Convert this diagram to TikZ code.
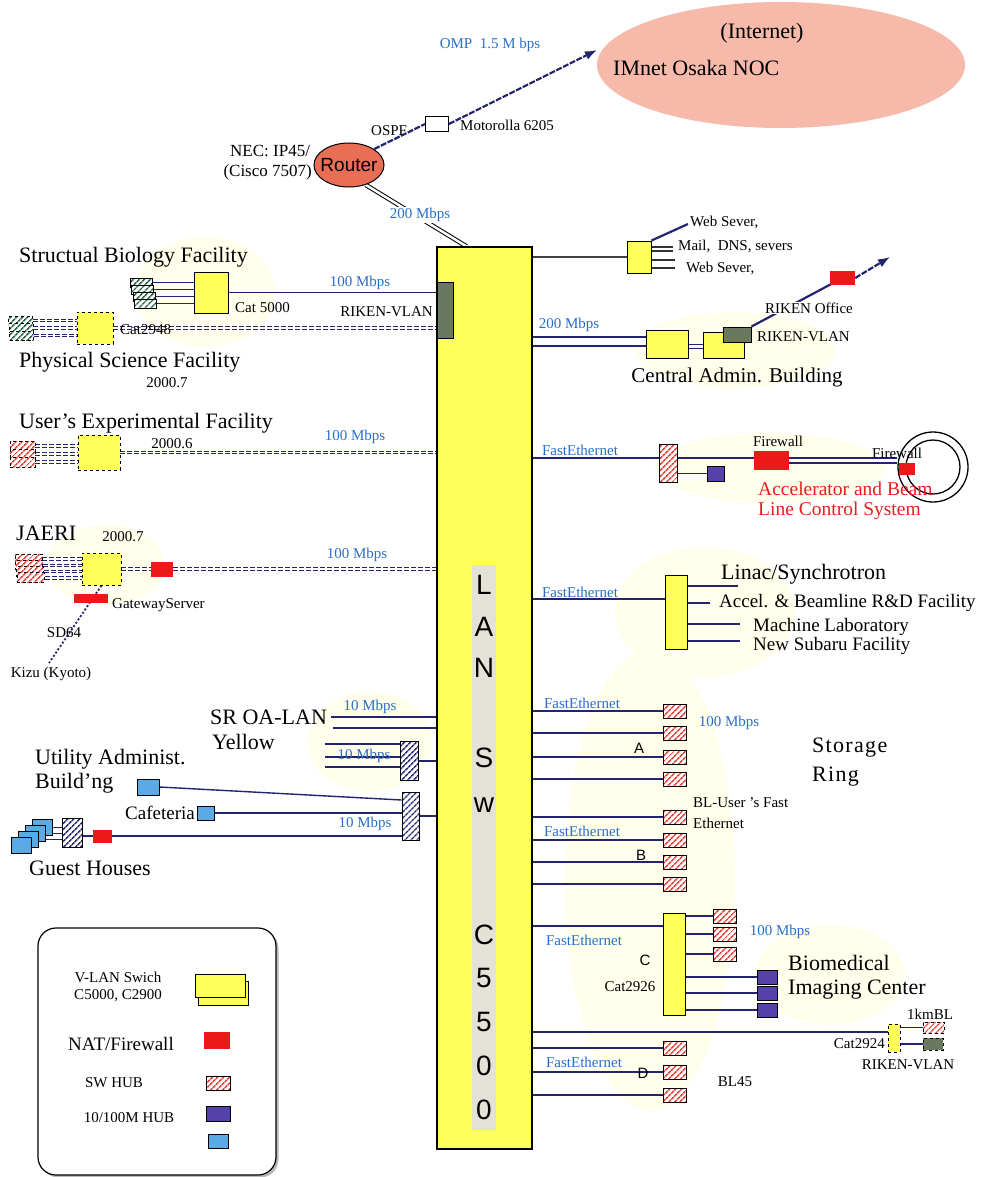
\documentclass[tikz,border=0pt]{standalone}
\usepackage{fontspec}
\setmainfont{Liberation Serif}
\setsansfont{Liberation Sans}
\usetikzlibrary{shapes.geometric,arrows.meta,positioning,calc,
                backgrounds,shadows,patterns.meta}

\definecolor{swyellow}{RGB}{255,255,90}
\definecolor{navyline}{RGB}{35,35,110}
\definecolor{lblue}{RGB}{40,110,200}
\definecolor{fwred}{RGB}{235,25,25}
\definecolor{acred}{RGB}{230,30,30}
\definecolor{hubred}{RGB}{225,70,60}
\definecolor{hubnavy}{RGB}{45,45,120}
\definecolor{hubgreen}{RGB}{40,100,70}
\definecolor{hubpurple}{RGB}{85,65,170}
\definecolor{pcblue}{RGB}{90,170,230}
\definecolor{vlangrey}{RGB}{105,120,95}
\definecolor{noclight}{RGB}{247,185,170}
\definecolor{routerred}{RGB}{232,110,85}
\definecolor{stripgrey}{RGB}{228,226,215}
\definecolor{glowyellow}{RGB}{255,255,236}

\newcommand{\fntbig}{\fontsize{22}{24}\selectfont}
\newcommand{\fntmid}{\fontsize{19}{21}\selectfont}
\newcommand{\fntsml}{\fontsize{15}{17}\selectfont}

\tikzset{
  sz/.style 2 args={minimum width=#1pt, minimum height=#2pt},
  box/.style={draw, inner sep=0pt, line width=0.9pt},
  vsw/.style={box, fill=swyellow},
  fwbox/.style={inner sep=0pt, fill=fwred},
  hatch/.style={box, preaction={fill=white},
    pattern={Lines[angle=45,distance=4pt,line width=1.6pt]}, pattern color=#1},
  hubsw/.style={hatch=hubred, sz={23}{14}},
  hubnv/.style={hatch=hubnavy},
  hubgr/.style={hatch=hubgreen},
  hub10/.style={box, fill=hubpurple, sz={20}{14}},
  pcbox/.style={box, fill=pcblue},
  link/.style={draw=navyline, line width=1.4pt},
  dlink/.style={draw=navyline, line width=0.9pt, double=white,
    double distance=1.6pt, dash pattern=on 5pt off 2pt},
  dbl/.style={draw=navyline, line width=1.4pt, double=white, double distance=#1},
  wanline/.style={draw=navyline, line width=2.2pt, dash pattern=on 6pt off 1.5pt},
  wan/.style={wanline, -{Latex[length=12pt,width=9pt]}},
  lbl/.style={font=\fntsml, inner sep=1pt},
  blbl/.style={lbl, text=lblue},
  mid/.style={font=\fntmid, inner sep=1pt},
  big/.style={font=\fntbig, inner sep=1pt},
  redtxt/.style={font=\fontsize{19.5}{21}\selectfont, text=acred, inner sep=1pt},
  ringfont/.style={font=\fontsize{22}{24}\selectfont\addfontfeature{LetterSpace=6}, inner sep=1pt},
  swletter/.style={font=\sffamily\fontsize{28}{28}\selectfont, inner sep=0pt},
  sansl/.style={font=\sffamily\fontsize{15}{15}\selectfont, inner sep=1pt}
}

\begin{document}
\begin{tikzpicture}[x=1pt,y=-1pt]
\useasboundingbox (0,0) rectangle (982,1177);

% soft glows behind the groups
\begin{scope}[on background layer]
  \fill[glowyellow] (205,292) ellipse [x radius=70pt, y radius=55pt];
  \fill[glowyellow] (105,565) ellipse [x radius=60pt, y radius=40pt];
  \fill[glowyellow] (370,742) ellipse [x radius=62pt, y radius=50pt];
  \fill[glowyellow] (735,350) ellipse [x radius=100pt, y radius=38pt];
  \fill[glowyellow] (770,468) ellipse [x radius=115pt, y radius=35pt];
  \fill[glowyellow] (705,612) ellipse [x radius=90pt, y radius=65pt];
  \fill[glowyellow] (650,880) ellipse [x radius=85pt, y radius=230pt];
  \fill[glowyellow] (830,975) ellipse [x radius=75pt, y radius=50pt];
\end{scope}

% internet and router
\node[ellipse, fill=noclight, minimum width=368pt, minimum height=126pt] (noc) at (781,65) {};
\node[big] (inet) at (762,33) {(Internet)};
\node[big, anchor=west] (noctxt) at (612,68) {IMnet Osaka NOC};
\node[ellipse, draw, line width=1pt, fill=routerred, sz={70}{44}] (router) at (349,165) {};
\node[font=\sffamily\fontsize{19}{19}\selectfont, inner sep=0pt] (routertxt) at (router) {Router};
\node[box, fill=white, sz={23}{15}] (moto) at (437,124) {};
\coordinate (omptip) at (597,50);
\draw[wanline] (router.north east) -- (moto.west);
\draw[wan] (moto.east) -- (omptip);
\node[lbl, anchor=west] (mototxt) at (459,125) {Motorolla 6205};
\node[lbl, anchor=west] (ospf) at (370,131) {OSPF};
\node[blbl] (omp) at (490,45) {OMP\ \ 1.5 M bps};
\node[font=\fontsize{17}{19}\selectfont, inner sep=1pt, anchor=west] (nec1) at (229,151) {NEC: IP45/};
\node[font=\fontsize{17}{19}\selectfont, inner sep=1pt, anchor=east] (nec2) at (313,172) {(Cisco 7507)};

% LAN switch C5500
\node[vsw, line width=1.2pt, sz={95}{902}] (lansw) at (484.5,698) {};
\node[fill=stripgrey, inner sep=0pt, sz={24}{565}] (strip) at (484,847.5) {};
\foreach \ch/\yy [count=\i] in {L/585,A/627,N/668,S/758,w/805,C/935,5/978,5/1022,0/1066,0/1110}
  \node[swletter] (let\i) at (484,\yy) {\ch};
\node[box, fill=vlangrey, sz={16}{56}] (vlan) at (445,310) {};
\node[blbl, fill=white] (r200) at (420,215) {200 Mbps};

% Structual Biology
\node[big, anchor=west] (sbftxt) at (18,257) {Structual Biology Facility};
\foreach \k in {0,...,3}
  \node[hubgr, sz={22}{9}] (sh\k) at ({141+1.5*\k},{282.5+7*\k}) {};
\node[vsw, sz={34}{41}] (sbf) at (211,292.5) {};
\node[lbl, anchor=west] (cat5000) at (234,308) {Cat 5000};
\node[blbl] (sbfspeed) at (360,283) {100 Mbps};
\node[lbl, anchor=east] (vlantxt) at (434,312) {RIKEN-VLAN};

% Physical Science
\foreach \k in {0,1,2}
  \node[hubgr, dashed, sz={24}{9}] (ph\k) at ({20.5+0.5*\k},{320.5+7.5*\k}) {};
\node[vsw, dashed, sz={36}{32}] (psf) at (95,328) {};
\node[lbl, anchor=west] (cat2948) at (119,330) {Cat2948};
\node[big, anchor=west] (psftxt) at (18,362) {Physical Science Facility};
\node[lbl] (psfdate) at (167,383) {2000.7};

% User's Experimental
\node[big, anchor=west] (ueftxt) at (18,423) {User's Experimental Facility};
\foreach \k in {0,1,2}
  \node[hubsw, dashed, sz={25}{10}] (uh\k) at (22.5,{446+8*\k}) {};
\node[vsw, dashed, sz={42}{35}] (uef) at (99,452.5) {};
\node[lbl] (uefdate) at (172,444) {2000.6};
\node[blbl] (uefspeed) at (355,437) {100 Mbps};

% JAERI
\node[big, anchor=west] (jtxt) at (15,533) {JAERI};
\node[lbl] (jdate) at (123,537) {2000.7};
\foreach \k in {0,...,3}
  \node[hubsw, dashed, sz={27}{10}] (jh\k) at ({28.5+0.8*\k},{559+6.3*\k}) {};
\node[vsw, dashed, sz={39}{32}] (jbox) at (101.5,569) {};
\node[fwbox, sz={22}{15}] (jfw) at (162,569) {};
\node[blbl] (jspeed) at (357,555) {100 Mbps};
\node[fwbox, sz={34}{9}] (gws) at (91,598) {};
\node[lbl, anchor=west] (gwstxt) at (111,605) {GatewayServer};
\coordinate (kizu) at (49,663);
\node[lbl] (sd64) at (64,633) {SD64};
\node[lbl] (kizutxt) at (51,674) {Kizu (Kyoto)};

% SR OA-LAN
\node[big, anchor=west] (oatxt) at (209,717) {SR OA-LAN};
\node[big, anchor=west] (yeltxt) at (211,742) {Yellow};
\coordinate (oa1) at (331,717);
\coordinate (oa2) at (333,728);
\node[blbl] (oaspeed) at (370,707) {10 Mbps};
\node[hubnv, sz={18}{39}] (oahub) at (409,761) {};
\foreach \yy [count=\i] in {744,757,767} \coordinate (oain\i) at (325,\yy);
\node[blbl] (oaspeed2) at (364,756) {10 Mbps};

% utility, cafeteria, guest houses
\node[big, anchor=west] (uttxt1) at (34,759) {Utility Administ.};
\node[big, anchor=west] (uttxt2) at (34,783) {Build'ng};
\node[hubnv, sz={17}{48}] (uthub) at (410.5,816) {};
\node[pcbox, sz={22}{16}] (utpc) at (148,787) {};
\node[pcbox, sz={17}{14}] (cafe) at (205.5,813) {};
\node[mid, anchor=east] (cafetxt) at (196,813) {Cafeteria};
\node[blbl] (utspeed) at (365,824) {10 Mbps};
\foreach \k in {0,...,3}
  \node[pcbox, sz={20}{16}] (gb\k) at ({42-6.7*\k},{827+6*\k}) {};
\node[hubnv, sz={20}{29}] (ghub) at (72,832.5) {};
\node[fwbox, sz={19}{13}] (gfw) at (102.5,836) {};
\node[big] (guesttxt) at (90,868) {Guest Houses};

% legend
\node[draw, line width=1.2pt, rounded corners=18pt, sz={238}{247}, fill=white,
      drop shadow={shadow xshift=2.5pt, shadow yshift=-2.5pt, fill=black!55}] (legend) at (157,1051.5) {};
\node[lbl] (lg1a) at (118,977) {V-LAN Swich};
\node[lbl] (lg1b) at (118,996) {C5000, C2900};
\node[vsw, sz={50}{24}] (lgsw2) at (223,993) {};
\node[vsw, sz={50}{23}] (lgsw1) at (220.5,985.5) {};
\node[mid] (lg2) at (121,1044) {NAT/Firewall};
\node[fwbox, sz={26}{17}] (lgfw) at (217,1040.5) {};
\node[lbl] (lg3) at (114,1083) {SW HUB};
\node[hubsw, sz={24}{14}] (lghub) at (218,1083) {};
\node[lbl] (lg4) at (129,1118) {10/100M HUB};
\node[hub10, sz={24}{15}] (lghub10) at (218,1113.5) {};
\node[pcbox, sz={20}{14}] (lgpc) at (218,1141) {};

% web / mail servers
\node[vsw, sz={24}{32}] (wsw) at (639,257) {};
\coordinate (ws0) at (688,224);
\foreach \yy/\xx [count=\i] in {247/673,251/673,260/675,268/675} \coordinate (ws\i) at (\xx,\yy);
\node[lbl, anchor=west] (web1) at (689,222) {Web Sever,};
\node[lbl, anchor=west] (mail) at (677,246) {Mail,\ \ DNS, severs};
\node[lbl, anchor=west] (web2) at (685,268) {Web Sever,};

% central admin
\node[blbl] (cabspeed) at (569,325) {200 Mbps};
\node[vsw, sz={42}{28}] (cab1) at (667,344) {};
\node[vsw, sz={41}{26}] (cab2) at (723.5,345) {};
\node[box, fill=vlangrey, sz={28}{15}] (cvlan) at (737,334.5) {};
\node[lbl, anchor=west] (cvlantxt) at (756,337) {RIKEN-VLAN};
\node[font=\fontsize{21}{23}\selectfont, inner sep=1pt] (cabtxt) at (737,377) {Central Admin. Building};
\node[fwbox, sz={25}{14}] (roff) at (842.5,278) {};
\coordinate (rtip) at (890,257);
\draw[wan] (roff.east) -- (rtip);
\node[lbl, fill=white] (rofftxt) at (809,308) {RIKEN Office};

% accelerator
\node[blbl] (afe) at (580,450) {FastEthernet};
\node[hubsw, sz={18}{38}] (ahub) at (668,463) {};
\node[hub10, sz={17}{15}] (apur) at (716,473.5) {};
\node[fwbox, sz={35}{19}] (afw) at (771,460.5) {};
\node[lbl] (afwtxt) at (778,441) {Firewall};
\node[circle, draw, line width=1.3pt, fill=white, minimum size=70pt, inner sep=0pt] (ringo) at (933,467) {};
\node[circle, draw, line width=1.3pt, minimum size=54pt, inner sep=0pt] (ringi) at (933,467) {};
\node[fwbox, sz={16}{12}] (afw2) at (907,469) {};
\node[lbl] (afw2txt) at (897,453) {Firewall};
\node[redtxt, anchor=west] (actxt1) at (757,489) {Accelerator and Beam};
\node[redtxt, anchor=west] (actxt2) at (757,511) {Line Control System};

% linac
\node[blbl] (lfe) at (580,592) {FastEthernet};
\node[vsw, sz={22}{74}] (lbox) at (676,612) {};
\foreach \yy/\xx [count=\i] in {586/738,603/710,624/740,641/740} \coordinate (ln\i) at (\xx,\yy);
\node[big, anchor=west] (lintxt) at (720,574) {Linac/Synchrotron};
\node[mid, anchor=west] (lintxt2) at (718,603) {Accel. \& Beamline R\&D Facility};
\node[mid, anchor=west] (lintxt3) at (752,627) {Machine Laboratory};
\node[mid, anchor=west] (lintxt4) at (752,646) {New Subaru Facility};

% storage ring
\node[blbl] (sfe1) at (582,703) {FastEthernet};
\foreach \yy [count=\i] in {711,733,757,779,817,840,862,884}
  \node[hubsw] (bl\i) at (674.5,\yy) {};
\node[blbl] (sspeed) at (729,723) {100 Mbps};
\node[sansl] (rowA) at (639,748) {A};
\node[sansl] (rowB) at (641,855) {B};
\node[lbl, anchor=west] (blu1) at (692,803) {BL-User 's Fast};
\node[lbl, anchor=west] (blu2) at (692,823) {Ethernet};
\node[blbl] (sfe2) at (582,831) {FastEthernet};
\node[ringfont, anchor=west] (stor1) at (811,748) {Storage};
\node[ringfont, anchor=west] (stor2) at (811,777) {Ring};

% biomedical
\node[blbl] (cfe) at (584,940) {FastEthernet};
\node[vsw, sz={22}{102}] (cbox) at (674,964) {};
\node[sansl] (rowC) at (645,960) {C};
\node[lbl] (cat2926) at (630,987) {Cat2926};
\foreach \yy [count=\i] in {916,934,954} \node[hubsw] (ch\i) at (724.5,\yy) {};
\foreach \yy [count=\i] in {977,993,1010} \node[hub10] (bm\i) at (767,\yy) {};
\node[blbl] (cspeed) at (780,932) {100 Mbps};
\node[big, anchor=west] (bmtxt1) at (787,963) {Biomedical};
\node[big, anchor=west] (bmtxt2) at (787,990) {Imaging Center};

% 1km beamline
\node[vsw, dashed, sz={12}{28}] (c2924) at (894,1038) {};
\node[hatch=hubred, dashed, sz={21}{11}] (kmbl) at (933.5,1027.5) {};
\node[box, dashed, fill=vlangrey, sz={20}{12}] (kmvlan) at (933,1044) {};
\node[lbl] (kmtxt) at (930,1014) {1kmBL};
\node[lbl, anchor=east] (c2924txt) at (886,1044) {Cat2924};
\node[lbl] (kmvlantxt) at (908,1065) {RIKEN-VLAN};

% BL45
\node[blbl] (dfe) at (584,1062) {FastEthernet};
\foreach \yy [count=\i] in {1048,1072,1095} \node[hubsw] (dh\i) at (674.5,\yy) {};
\node[sansl] (rowD) at (643,1073) {D};
\node[lbl] (bl45) at (735,1082) {BL45};

% connectors
\begin{scope}[on background layer]
  \draw[dbl=2.5pt, draw=black, line width=1pt] (router.-50) -- ([xshift=-18pt]lansw.north);
  \foreach \k in {0,...,3} \draw[link, line width=1.2pt] (sh\k.east) -- (sbf.west |- sh\k.east);
  \draw[link] (sbf.east) -- (vlan.west |- sbf.east);
  \foreach \k in {0,1,2} \draw[dlink] (ph\k.east) -- (psf.west |- ph\k.east);
  \draw[dlink] (psf.east) -- (vlan.west |- psf.east);
  \foreach \k in {0,1,2} \draw[dlink] (uh\k.east) -- (uef.west |- uh\k.east);
  \draw[dlink] (uef.east) -- (lansw.west |- uef.east);
  \foreach \k in {0,...,3} \draw[dlink] (jh\k.east) -- (jbox.west |- jh\k.east);
  \draw[dlink] (jbox.east) -- (jfw.west);
  \draw[dlink] (jfw.east) -- (lansw.west |- jfw.east);
  \draw[navyline, line width=1.8pt, dash pattern=on 2pt off 2pt] (jbox.south) -- (kizu);
  \draw[link] (oa1) -- (lansw.west |- oa1);
  \draw[link] (oa2) -- (lansw.west |- oa2);
  \foreach \i in {1,2,3} \draw[link] (oain\i) -- (oahub.west |- oain\i);
  \draw[link] (oahub.east) -- (lansw.west |- oahub.east);
  \draw[link] (utpc.east) -- ([yshift=16pt]uthub.west);
  \draw[link] (cafe.east) -- (uthub.west |- cafe.east);
  \draw[link] (uthub.east) -- (lansw.west |- uthub.east);
  \foreach \k in {0,1,2} \draw[link, line width=1pt] (gb\k.east) -- (ghub.west |- gb\k.east);
  \draw[link] (ghub.east |- gfw.west) -- (gfw.west);
  \draw[link] (gfw.east) -- (uthub.west |- gfw.east);
  % right hand side
  \draw[draw=black!75, line width=1.2pt] (lansw.east |- wsw.west) -- (wsw.west);
  \draw[link, line width=2.2pt] (wsw.north east) -- (ws0);
  \foreach \i in {1,...,4} \draw[draw=black!80, line width=1.2pt] (wsw.east |- ws\i) -- (ws\i);
  \coordinate (cabin) at ([yshift=2.5pt]cab1.west);
  \draw[dbl=7.6pt] (lansw.east |- cabin) -- (cabin);
  \coordinate (cabmid) at ([yshift=-2pt]cab1.east);
  \draw[dbl=3pt, line width=1pt] (cabmid) -- (cab2.west |- cabmid);
  \draw[link, line width=2.2pt] (cvlan.north east) -- (roff.center);
  \coordinate (ain) at ([yshift=5pt]ahub.west);
  \draw[link] (lansw.east |- ain) -- (ain);
  \draw[link] ([yshift=5pt]ahub.east) -- ([yshift=9pt]ringo.west);
  \draw[link] ([yshift=-2.5pt]afw.east) -- ([yshift=4pt]ringo.west);
  \draw[link] (apur.west -| ahub.east) -- (apur.west);
  \coordinate (lin) at ([yshift=13pt]lbox.west);
  \draw[link] (lansw.east |- lin) -- (lin);
  \foreach \i in {1,...,4} \draw[link] (lbox.east |- ln\i) -- (ln\i);
  \foreach \i in {1,...,8} \draw[link] (lansw.east |- bl\i.west) -- (bl\i.west);
  \coordinate (cin) at ([yshift=38pt]cbox.west);
  \draw[link] (lansw.east |- cin) -- (cin);
  \foreach \i in {1,2,3} {
    \draw[link] (cbox.east |- ch\i.west) -- (ch\i.west);
    \draw[link] (cbox.east |- bm\i.west) -- (bm\i.west);
  }
  \coordinate (c24in) at ([yshift=6pt]c2924.west);
  \draw[link] (lansw.east |- c24in) -- (c24in);
  \draw[link] (c2924.east |- kmbl.west) -- (kmbl.west);
  \draw[link] (c2924.east |- kmvlan.west) -- (kmvlan.west);
  \foreach \i in {1,2,3} \draw[link] (lansw.east |- dh\i.west) -- (dh\i.west);
\end{scope}
\end{tikzpicture}
\end{document}
